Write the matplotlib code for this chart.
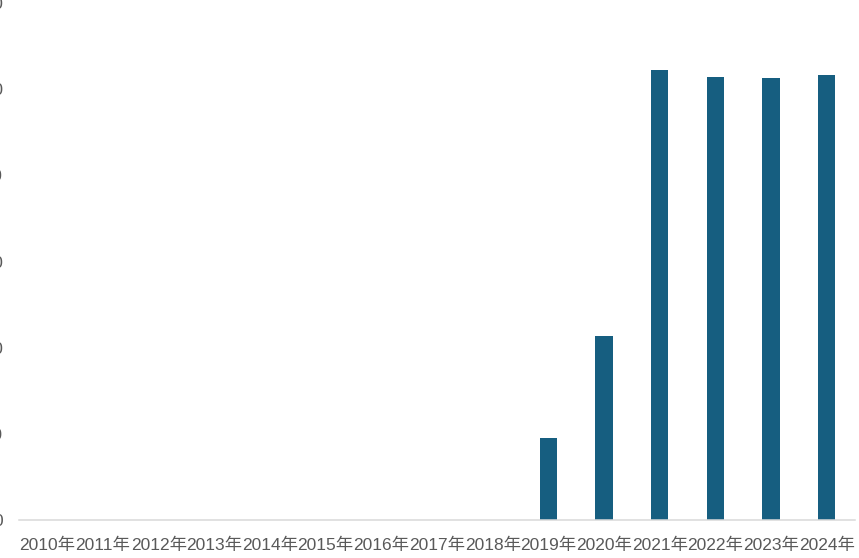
import matplotlib
matplotlib.use("Agg")
import matplotlib.pyplot as plt

plt.rcParams["font.family"] = ["Liberation Sans", "Noto Sans CJK SC", "DejaVu Sans"]

years = ["2010年", "2011年", "2012年", "2013年", "2014年", "2015年", "2016年",
         "2017年", "2018年", "2019年", "2020年", "2021年", "2022年", "2023年", "2024年"]
values = [0, 0, 0, 0, 0, 0, 0, 0, 0, 95.5, 213.5, 522, 514, 513, 516]
yticks = [0, 100, 200, 300, 400, 500, 600]

bar_color = "#165E80"
text_color = "#595959"

fig = plt.figure(figsize=(8.59, 5.58), dpi=100)
ax = fig.add_axes([19.5 / 859, 38 / 558, 835 / 859, 517 / 558])

x = range(len(years))
ax.bar(x, values, width=0.31, color=bar_color)

ax.set_xlim(-0.5, len(years) - 0.5)
ax.set_ylim(0, 600)
ax.set_yticks(yticks)
ax.set_yticklabels([str(v) for v in yticks])
ax.set_xticks(list(x))
ax.set_xticklabels(years)

for side in ["top", "right", "left"]:
    ax.spines[side].set_visible(False)
ax.spines["bottom"].set_color("#D9D9D9")
ax.spines["bottom"].set_linewidth(1.1)

ax.tick_params(axis="x", length=0, pad=12.5, labelsize=12.5, colors=text_color)
ax.tick_params(axis="y", length=0, pad=12, labelsize=12.5, colors=text_color)

fig.savefig("out.png", dpi=100)
